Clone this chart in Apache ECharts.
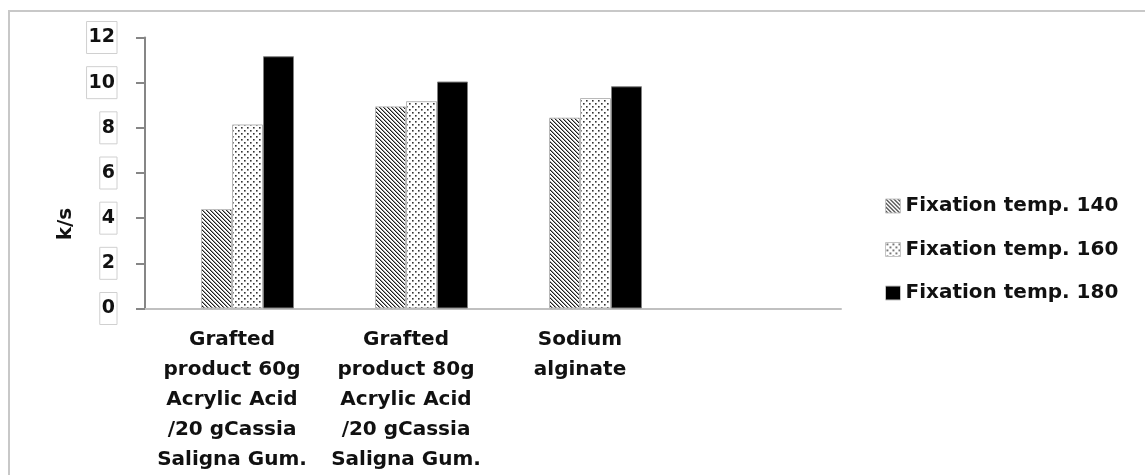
<!DOCTYPE html>
<html>
<head>
<meta charset="utf-8">
<script src="https://cdn.jsdelivr.net/npm/echarts@6/dist/echarts.min.js"></script>
<style>
html,body{margin:0;padding:0;background:#fff;}
#chart{width:1145px;height:475px;}
</style>
</head>
<body>
<div id="chart"></div>
<script>
// ---- data ----
var categories = [
  'Grafted\nproduct 60g\nAcrylic Acid\n/20 gCassia\nSaligna Gum.',
  'Grafted\nproduct 80g\nAcrylic Acid\n/20 gCassia\nSaligna Gum.',
  'Sodium\nalginate',
  ''
];
var seriesNames = ['Fixation temp. 140', 'Fixation temp. 160', 'Fixation temp. 180'];
var temp140 = [4.4, 8.95, 8.45];
var temp160 = [8.15, 9.18, 9.32];
var temp180 = [11.17, 10.05, 9.84];
var emptySeries = [null, null, null];
var yTicks = { min: 0, max: 12, interval: 2 };

// ---- patterns ----
function hatchPattern() {
  var c = document.createElement('canvas');
  c.width = 4; c.height = 4;
  var g = c.getContext('2d');
  g.fillStyle = '#fff'; g.fillRect(0, 0, 4, 4);
  for (var i = 0; i < 4; i++) {
    g.fillStyle = '#1e1e1e';
    g.fillRect(i, i, 1, 1);
    g.fillStyle = '#9a9a9a';
    g.fillRect((i + 1) % 4, i, 1, 1);
  }
  return c;
}
function dotPattern() {
  var c = document.createElement('canvas');
  c.width = 6; c.height = 6;
  var g = c.getContext('2d');
  g.fillStyle = '#fff'; g.fillRect(0, 0, 6, 6);
  g.fillStyle = '#333';
  g.fillRect(1, 1, 1.6, 1.6);
  g.fillRect(4, 4, 1.6, 1.6);
  return c;
}

var font = 'DejaVu Sans';
var chart = echarts.init(document.getElementById('chart'), null, { renderer: 'canvas' });

var option = {
  backgroundColor: '#fff',
  animation: false,
  grid: { left: 145, right: 304, top: 37.5, bottom: 166.5, containLabel: false },
  legend: {
    data: seriesNames,
    orient: 'vertical',
    left: 880,
    top: 191,
    itemWidth: 15,
    itemHeight: 14,
    itemGap: 23.5,
    icon: 'rect',
    itemStyle: { borderColor: '#c4c4c4', borderWidth: 1 },
    textStyle: { fontFamily: font, fontWeight: 'bold', fontSize: 20, color: '#111', lineHeight: 20 }
  },
  xAxis: {
    type: 'category',
    data: categories,
    axisLine: { show: true, lineStyle: { color: '#c0c0c0', width: 2 } },
    axisTick: { show: false },
    axisLabel: {
      interval: 0,
      margin: 16,
      fontFamily: font,
      fontWeight: 'bold',
      fontSize: 20,
      lineHeight: 30,
      color: '#111',
      align: 'center'
    }
  },
  yAxis: {
    type: 'value',
    min: yTicks.min,
    max: yTicks.max,
    interval: yTicks.interval,
    splitLine: { show: false },
    axisLine: { show: true, lineStyle: { color: '#868686', width: 2 } },
    axisTick: { show: true, inside: false, length: 9, lineStyle: { color: '#868686', width: 2 } },
    axisLabel: {
      margin: 28,
      fontFamily: font,
      fontWeight: 'bold',
      fontSize: 19,
      color: '#111',
      padding: [7, 2, 6, 2],
      borderColor: '#d0d0d0',
      borderWidth: 1
    }
  },
  graphic: [
    {
      type: 'rect',
      silent: true,
      shape: { x: 9, y: 11, width: 1200, height: 500 },
      style: { fill: 'none', stroke: '#c8c8c8', lineWidth: 2 }
    },
    {
      type: 'text',
      silent: true,
      x: 66,
      y: 224,
      rotation: Math.PI / 2,
      style: {
        text: 'k/s',
        x: 0, y: 0,
        textAlign: 'center',
        textVerticalAlign: 'middle',
        font: 'bold 20px "DejaVu Sans"',
        fill: '#111'
      }
    }
  ],
  series: [
    {
      name: '_empty',
      type: 'bar',
      data: emptySeries,
      barWidth: 31,
      barGap: '0%',
      silent: true
    },
    {
      name: seriesNames[0],
      type: 'bar',
      data: temp140,
      barWidth: 31,
      barGap: '0%',
      itemStyle: { color: { image: hatchPattern(), repeat: 'repeat' }, borderColor: '#b8b8b8', borderWidth: 1 }
    },
    {
      name: seriesNames[1],
      type: 'bar',
      data: temp160,
      barWidth: 31,
      barGap: '0%',
      itemStyle: { color: { image: dotPattern(), repeat: 'repeat' }, borderColor: '#b8b8b8', borderWidth: 1 }
    },
    {
      name: seriesNames[2],
      type: 'bar',
      data: temp180,
      barWidth: 31,
      barGap: '0%',
      itemStyle: { color: '#000', borderColor: '#808080', borderWidth: 1 }
    }
  ]
};
chart.setOption(option);
</script>
</body>
</html>
